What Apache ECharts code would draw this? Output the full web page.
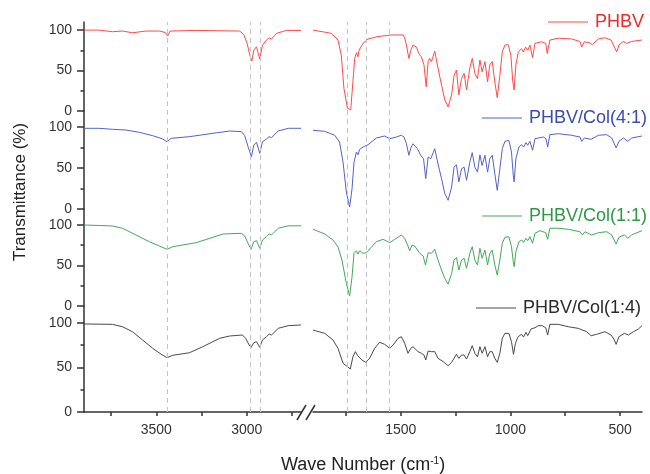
<!DOCTYPE html>
<html><head><meta charset="utf-8">
<script src="https://cdn.jsdelivr.net/npm/echarts@6/dist/echarts.min.js"></script>
<style>html,body{margin:0;padding:0;background:#fff}#c{width:650px;height:474px}</style>
</head><body><div id="c"></div>
<script>
// ---- data (wave number cm-1, transmittance %) ----
const seriesNames = ['PHBV', 'PHBV/Col(4:1)', 'PHBV/Col(1:1)', 'PHBV/Col(1:4)'];

const phbvHigh = [[3900,100],[3817,100],[3743,98],[3687,98.8],[3632,96.7],[3557,98.8],[3483,98.8],[3450,97],[3437,93],[3424,98.8],[3280,99.6],[3039,98.8],[3017,94.7],[2998,83.6],[2983,69],[2972,61.7],[2961,75.3],[2946,79.4],[2928,64.2],[2913,81.5],[2891,87.7],[2876,90.5],[2863,89],[2835,96],[2780,99.6],[2700,99.6]];
const phbvLow = [[1900,100],[1816,96],[1786,87.7],[1771,69],[1759,28],[1743,3.3],[1728,1.5],[1718,36],[1710,65],[1702,72],[1695,67],[1690,75],[1672,83.6],[1649,89],[1604,92],[1542,94],[1489,94],[1482,90.5],[1474,81.5],[1463,65],[1454,75],[1444,81.5],[1428,79],[1418,71],[1406,67],[1394,57],[1384,30],[1375,61],[1368,65],[1360,61],[1345,74],[1330,53],[1314,32],[1299,13.6],[1284,5.3],[1268,20],[1257,44],[1246,50.6],[1235,20],[1223,40],[1211,46.5],[1200,26],[1185,53],[1174,65],[1162,46.5],[1150,40],[1139,63],[1129,48.5],[1116,61],[1104,36],[1094,57],[1083,61],[1071,36],[1060,16.5],[1048,44],[1037,73],[1025,81.5],[1010,82],[998,69],[989,36],[983,26],[975,57],[964,73],[949,77],[941,73],[931,79],[921,75],[911,81.5],[899,66],[888,83.6],[858,85.6],[839,83.6],[832,71],[820,87.7],[782,90],[721,89],[683,86],[675,79],[663,85.6],[637,84],[627,82],[599,89],[569,90.5],[541,87.7],[526,79],[515,73],[505,81.5],[485,86],[470,83.6],[462,81.5],[447,86],[400,87.7]];

const col41High = [[3900,98.4],[3817,98.4],[3743,97.2],[3668,96.3],[3594,93.5],[3520,89.4],[3465,85.4],[3441,82],[3418,86.2],[3317,88.2],[3187,92.3],[3094,95.1],[3030,94.3],[3011,89.4],[2993,76],[2974,63.8],[2961,78],[2946,81.3],[2928,67.9],[2913,82],[2891,85.4],[2876,88.2],[2863,87],[2826,95.1],[2770,98.4],[2700,98.4]];
const col41Low = [[1900,96],[1847,94.7],[1801,90],[1779,81.7],[1763,57],[1748,20.7],[1733,2.4],[1722,24.8],[1713,57],[1702,69.5],[1695,66],[1687,72.8],[1672,75.6],[1649,78.4],[1611,86.6],[1573,89],[1550,85.7],[1520,87.8],[1497,90],[1485,87.8],[1474,79.6],[1463,65.5],[1454,74.4],[1444,79.6],[1424,73.5],[1409,65.5],[1396,61.3],[1386,37],[1375,63.4],[1363,61.3],[1345,73.5],[1330,55],[1314,37],[1299,18.7],[1284,10.6],[1268,26.8],[1257,51],[1246,54],[1235,33],[1223,49],[1211,51],[1200,35],[1185,57],[1174,68.7],[1162,51],[1150,45],[1139,66],[1129,53],[1116,65.5],[1104,45],[1094,61.3],[1083,65.5],[1071,43],[1060,22.8],[1048,49],[1037,73.5],[1025,82.5],[1007,83.7],[995,69.5],[987,41],[983,33],[975,61.3],[961,75.6],[949,78.4],[940,75.6],[929,80.9],[921,77.7],[911,82.5],[899,71.6],[888,85.7],[850,87.8],[838,85.7],[830,75.6],[820,90.6],[782,91.8],[721,89.9],[683,87.8],[675,82.5],[663,86.6],[632,85],[599,89.9],[561,90.6],[538,86.6],[518,74.4],[505,82.5],[485,86.6],[465,82.5],[447,86.6],[400,89]];

const col11High = [[3900,100],[3743,98.8],[3687,96],[3613,87.7],[3539,79.4],[3483,74],[3441,70],[3409,73.2],[3280,78.2],[3187,84.8],[3131,88.9],[3030,89.7],[3011,86.4],[2993,77.4],[2976,70],[2961,79.4],[2946,80.6],[2928,71.2],[2913,81.5],[2891,85.6],[2876,88.9],[2863,87.7],[2826,96],[2770,99],[2700,99]];
const col11Low = [[1900,94.7],[1847,89],[1809,81.5],[1786,73],[1768,56.8],[1748,28],[1733,12.3],[1722,36],[1713,65],[1702,68.3],[1695,64],[1687,68.3],[1672,65],[1657,65.8],[1634,72.5],[1611,79.4],[1580,82.3],[1550,78.2],[1527,82.3],[1497,87.7],[1482,83.6],[1469,75.3],[1459,68.3],[1448,75.3],[1436,74],[1413,65],[1398,61.7],[1387,50.6],[1375,65.8],[1360,65],[1345,70],[1330,56.8],[1314,44.4],[1299,34],[1284,27],[1268,40],[1257,56.8],[1246,60],[1235,44.4],[1223,56.8],[1211,58.9],[1200,46.5],[1185,65],[1174,73.2],[1162,56.8],[1150,50.6],[1139,71.2],[1129,58.9],[1116,69],[1104,50.6],[1094,65],[1083,69],[1071,50.6],[1060,38.3],[1048,56.8],[1037,77.4],[1025,84.8],[1007,85.6],[995,73.2],[987,54.7],[983,48.5],[975,67],[961,79.4],[949,81.5],[940,78.6],[929,83.6],[921,80.6],[911,85.6],[899,77.4],[888,89.7],[865,93],[839,90.5],[830,82.3],[820,96],[782,96],[736,94.7],[683,91.7],[672,87.7],[660,91.7],[629,87.7],[599,90.5],[561,91.7],[538,87.7],[518,76.5],[505,84.8],[480,87.7],[465,83.6],[447,87.7],[400,93]];

const col14High = [[3900,98.9],[3743,98.5],[3687,95.8],[3632,90.2],[3576,80.9],[3520,71.5],[3474,65],[3441,61],[3409,63.7],[3317,66.6],[3243,73.4],[3150,82.8],[3094,85.4],[3024,86.5],[3006,82.8],[2987,75.3],[2976,72.7],[2961,77.9],[2946,79],[2928,72.7],[2913,80.9],[2891,84.6],[2876,87.6],[2863,86.5],[2826,94],[2770,97],[2700,97.8]];
const col14Low = [[1900,92],[1847,88.4],[1809,81],[1786,71.5],[1763,54.7],[1743,51],[1730,48.3],[1718,62],[1707,67.8],[1695,63],[1677,58.4],[1660,55.8],[1642,60.3],[1619,71.5],[1596,78.3],[1573,76],[1550,71.5],[1535,75.3],[1512,82.8],[1497,84.6],[1482,77.2],[1467,66],[1454,71.5],[1444,73.4],[1421,67.8],[1406,66],[1394,64],[1386,58.4],[1375,68.5],[1360,67.8],[1345,67.8],[1330,60.3],[1306,56.5],[1284,52],[1268,55.8],[1257,60.3],[1246,64.8],[1235,60.3],[1223,64],[1211,64],[1200,59.5],[1185,67.8],[1174,74.5],[1162,66],[1150,62],[1139,73.4],[1129,66],[1116,73.4],[1104,62],[1094,67.8],[1083,67.8],[1071,60.3],[1060,55.8],[1048,66],[1037,82.8],[1025,88.4],[1007,88.4],[995,79],[986,64.8],[977,77.2],[965,84.6],[949,87.3],[940,84.3],[929,89.5],[921,85.7],[906,93.3],[888,94.7],[873,97],[855,97],[839,94.7],[830,86.5],[820,98.5],[782,98.5],[736,95.8],[691,94],[652,90.2],[632,85.7],[607,87.3],[569,90.2],[541,86.5],[526,81],[518,76],[505,84.6],[480,88.4],[462,86.5],[439,90.2],[416,93.3],[400,97]];

const markerLinesHigh = [3440, 2978, 2928];
const markerLinesLow = [1742, 1657, 1552];
const yTickValues = [0, 50, 100];
const yMinorValues = [25, 75];
const xTicksHigh = [2750, 3000, 3250, 3500, 3750];
const xLabelsHigh = [3000, 3500];
const xTicksLow = [500, 750, 1000, 1250, 1500, 1750];
const xLabelsLow = [500, 1000, 1500];

// ---- styling / layout ----
const FONT = '"Liberation Sans", Arial, Helvetica, sans-serif';
const lineColors = ['#ff4a4a', '#5563c4', '#45a85a', '#4a4a4a'];
const textColors = ['#ee2a2a', '#3a4cb2', '#2e9848', '#2a2a2a'];
const seriesData = [[phbvHigh, phbvLow], [col41High, col41Low], [col11High, col11Low], [col14High, col14Low]];
const rows = [
  {top: 22, height: 89, max: 110},
  {top: 111, height: 98, max: 119.5},
  {top: 209, height: 97, max: 119.75},
  {top: 306, height: 106, max: 119.1}
];
const L = {left: 84, width: 217}, R = {left: 313, width: 329};
const axisCol = '#333';
const plain = v => String(v);

const grids = [], xAxes = [], yAxes = [], series = [];
rows.forEach((r, i) => {
  const bottom = i === rows.length - 1;
  [['hi', L], ['lo', R]].forEach(([side, g]) => {
    const gi = grids.length;
    grids.push({left: g.left, width: g.width, top: r.top, height: r.height});
    const hi = side === 'hi';
    xAxes.push({type: 'value', gridIndex: gi, min: hi ? 2700 : 400, max: hi ? 3900 : 1900, inverse: true,
      axisLine: {show: bottom, onZero: false, lineStyle: {color: axisCol, width: 1.5}},
      axisTick: {show: bottom, customValues: hi ? xTicksHigh : xTicksLow, length: 4, lineStyle: {color: axisCol, width: 1.5}},
      axisLabel: {show: bottom, customValues: hi ? xLabelsHigh : xLabelsLow, formatter: plain, margin: 11, fontSize: 14, color: '#333', fontFamily: FONT},
      splitLine: {show: false}});
    yAxes.push({type: 'value', gridIndex: gi, min: 0, max: r.max, position: 'left',
      axisLine: {show: hi, onZero: false, lineStyle: {color: axisCol, width: 1.5}},
      axisTick: {show: hi, customValues: yTickValues, length: 7, lineStyle: {color: axisCol, width: 1.5}},
      axisLabel: {show: hi, customValues: yTickValues, formatter: plain, margin: 12, fontSize: 14, color: '#333', fontFamily: FONT},
      splitLine: {show: false}});
  });
});
// overlay grids for dashed guide lines spanning all panels
[[L, 2700, 3900, markerLinesHigh], [R, 400, 1900, markerLinesLow]].forEach(([g, mn, mx, marks]) => {
  const gi = grids.length;
  grids.push({left: g.left, width: g.width, top: 22, height: 390});
  xAxes.push({type: 'value', gridIndex: gi, min: mn, max: mx, inverse: true, show: false});
  yAxes.push({type: 'value', gridIndex: gi, min: 0, max: 1, show: false});
  series.push({type: 'line', xAxisIndex: gi, yAxisIndex: gi, data: [], silent: true, z: 1,
    markLine: {silent: true, symbol: 'none', animation: false, label: {show: false},
      lineStyle: {type: [5, 4], color: '#c4c4c4', width: 1},
      data: marks.map(v => ({xAxis: v}))}});
});
// minor ticks on left y axes
rows.forEach((r, i) => {
  yAxes.push({type: 'value', gridIndex: 2 * i, min: 0, max: r.max, position: 'left',
    axisLine: {show: false}, axisLabel: {show: false}, splitLine: {show: false},
    axisTick: {show: true, customValues: yMinorValues, length: 3.5, lineStyle: {color: axisCol, width: 1.5}}});
});
// spectra
seriesData.forEach((pair, i) => {
  pair.forEach((d, k) => {
    const gi = 2 * i + k;
    series.push({type: 'line', name: seriesNames[i], xAxisIndex: gi, yAxisIndex: gi, data: d,
      symbol: 'none', smooth: false, silent: true, z: 3,
      lineStyle: {color: lineColors[i], width: 1}, itemStyle: {color: lineColors[i]}});
  });
});

const legendPos = [[548, 13], [482, 109], [482, 207], [476, 299]];
const legends = seriesNames.map((n, i) => ({
  data: [{name: n, icon: 'rect'}], left: legendPos[i][0], top: legendPos[i][1], padding: 0,
  itemWidth: 40, itemHeight: 1.2, itemGap: 0, selectedMode: false,
  itemStyle: {color: lineColors[i]},
  textStyle: {color: textColors[i], fontSize: 18, fontFamily: FONT, padding: [0, 0, 0, 2]}
}));

const chart = echarts.init(document.getElementById('c'), null, {renderer: 'canvas'});
chart.setOption({
  animation: false,
  backgroundColor: '#fff',
  grid: grids, xAxis: xAxes, yAxis: yAxes, series: series, legend: legends,
  graphic: [
    {type: 'text', x: 20, y: 192, rotation: Math.PI / 2,
      style: {text: 'Transmittance (%)', fontSize: 17, fontFamily: FONT, fill: '#222', align: 'center', verticalAlign: 'middle'}},
    {type: 'text', x: 363, y: 465,
      style: {text: '{a|Wave Number (cm}{s|-1}{a|)}', align: 'center', verticalAlign: 'middle', fill: '#222',
        rich: {a: {fontSize: 18, fontFamily: FONT, fill: '#222'}, s: {fontSize: 10, fontFamily: FONT, fill: '#222', verticalAlign: 'top'}}}},
    {type: 'line', shape: {x1: 297, y1: 420, x2: 306, y2: 405}, style: {stroke: axisCol, lineWidth: 1.5}},
    {type: 'line', shape: {x1: 306, y1: 420, x2: 315, y2: 405}, style: {stroke: axisCol, lineWidth: 1.5}}
  ]
});
</script></body></html>
